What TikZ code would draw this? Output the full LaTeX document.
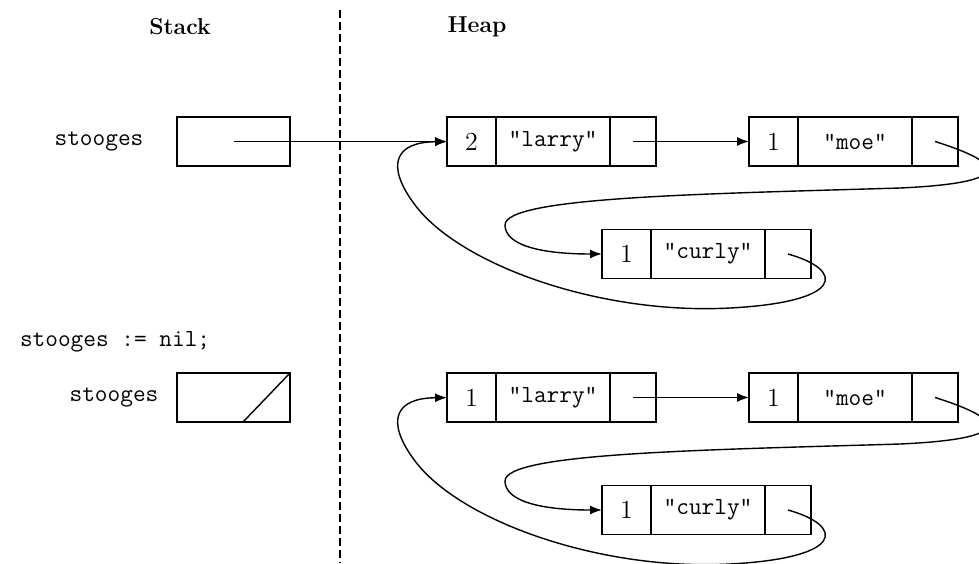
\documentclass[tikz,border=0pt]{standalone}
\usetikzlibrary{positioning,arrows.meta}
\tikzset{>={Latex[length=6pt,width=4.5pt]}}
\begin{document}
\begin{tikzpicture}[x=0.5pt,y=-0.5pt]
    \tikzset{
      cell/.style={draw, line width=0.9pt, minimum height=24.5pt, inner sep=0pt, outer sep=0pt},
      count/.style={cell, minimum width=24.5pt, font=\fontsize{13}{15}\selectfont},
      value/.style={cell, minimum width=57pt, font=\fontsize{12.3}{14}\ttfamily},
      link/.style={cell, minimum width=23pt},
      slot/.style={cell, minimum width=56.5pt},
      code/.style={font=\fontsize{12.3}{14}\ttfamily},
      title/.style={font=\fontsize{11.5}{14}\bfseries},
      ptr/.style={->, line width=0.7pt},
    }
    \useasboundingbox (0,0) rectangle (979,563);

    % Titles and divider.
    \node[title] (stack) at (180,27) {Stack};
    \node[title] (heap)  at (477,27) {Heap};
    \draw [line width=0.8pt, dash pattern=on 4pt off 2pt] (340,10) -- (340,563);

    % Heap lists, before (a) and after (b) the assignment.
    \foreach \r/\dy/\n in {a/0/2, b/256/1} {
      \begin{scope}[yshift=-\dy*0.5pt]
        \node[count, anchor=west] (l\r) at (447,141.5) {\n};
        \node[value, right=0pt of l\r] (lv\r) {"larry"};
        \node[link, right=0pt of lv\r] (lp\r) {};

        \node[count, anchor=west] (m\r) at (749,141.5) {1};
        \node[value, right=0pt of m\r] (mv\r) {"moe"};
        \node[link, right=0pt of mv\r] (mp\r) {};

        \node[count, anchor=west] (c\r) at (602,254) {1};
        \node[value, right=0pt of c\r] (cv\r) {"curly"};
        \node[link, right=0pt of cv\r] (cp\r) {};

        \draw [ptr] (lp\r.center) -- (m\r);
        \draw [ptr] (mp\r.center) .. controls (1010,165) and (1010,183) .. (900,188)
          .. controls (700,194) and (505,197) .. (505,225)
          .. controls (505,245) and (540,254) .. (c\r);
        \draw [ptr] (cp\r.center) .. controls (845,270) and (845,302) .. (730,308)
          .. controls (600,315) and (460,265) .. (415,205)
          .. controls (385,165) and (395,142) .. (l\r);
      \end{scope}
    }

    % Stack, before.
    \node[slot] (sa) at (233.5,141.5) {};
    \node[code] (na) at (99,141.5) {stooges};
    \draw [ptr] (sa.center) -- (la);

    % Stack, after.
    \node[code, anchor=west] (nil) at (13,342) {stooges := nil;};
    \node[slot] (sb) at (233.5,397.5) {};
    \node[code] (nb) at (114,397.5) {stooges};
    \draw [line width=0.7pt] ([xshift=4.75pt]sb.south) -- (sb.north east);

\end{tikzpicture}
\end{document}
